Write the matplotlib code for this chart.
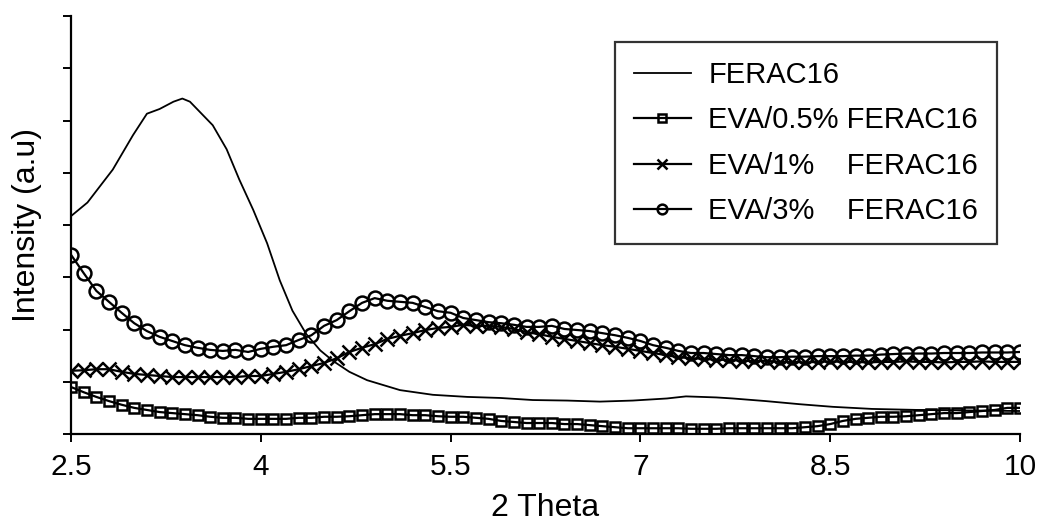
import numpy as np
import matplotlib
matplotlib.use("Agg")
import matplotlib.pyplot as plt

plt.rcParams['font.family'] = ['Liberation Sans', 'DejaVu Sans']

# ---- data ----
ferac_x = [2.5, 2.63, 2.83, 2.99, 3.10, 3.20, 3.31, 3.38, 3.44, 3.52, 3.62, 3.73,
           3.83, 3.94, 4.05, 4.15, 4.25, 4.36, 4.47, 4.57, 4.70, 4.84, 5.10, 5.36,
           5.63, 5.89, 6.15, 6.42, 6.68, 6.94, 7.21, 7.36, 7.60, 7.73, 7.99, 8.26,
           8.52, 8.83, 9.20, 10.0]
ferac_y = [4.17, 4.43, 5.06, 5.72, 6.13, 6.22, 6.36, 6.42, 6.36, 6.16, 5.91, 5.45,
           4.87, 4.29, 3.65, 2.94, 2.36, 1.91, 1.60, 1.40, 1.19, 1.03, 0.84, 0.75,
           0.71, 0.69, 0.65, 0.64, 0.62, 0.64, 0.68, 0.72, 0.70, 0.68, 0.63, 0.57,
           0.52, 0.48, 0.46, 0.44]

theta = [2.5, 2.6, 2.7, 2.8, 2.9, 3.0, 3.1, 3.2, 3.3, 3.4, 3.5, 3.6, 3.7, 3.8, 3.9,
         4.0, 4.1, 4.2, 4.3, 4.4, 4.5, 4.6, 4.7, 4.8, 4.9, 5.0, 5.1, 5.2, 5.3, 5.4,
         5.5, 5.6, 5.7, 5.8, 5.9, 6.0, 6.1, 6.2, 6.3, 6.4, 6.5, 6.6, 6.7, 6.8, 6.9,
         7.0, 7.1, 7.2, 7.3, 7.4, 7.5, 7.6, 7.7, 7.8, 7.9, 8.0, 8.1, 8.2, 8.3, 8.4,
         8.5, 8.6, 8.7, 8.8, 8.9, 9.0, 9.1, 9.2, 9.3, 9.4, 9.5, 9.6, 9.7, 9.8, 9.9,
         10.0]

eva05 = [0.90, 0.80, 0.71, 0.63, 0.56, 0.50, 0.46, 0.42, 0.40, 0.38, 0.36, 0.33,
         0.31, 0.31, 0.29, 0.29, 0.29, 0.29, 0.31, 0.31, 0.33, 0.33, 0.34, 0.36,
         0.38, 0.38, 0.38, 0.36, 0.36, 0.34, 0.33, 0.33, 0.31, 0.29, 0.25, 0.23,
         0.21, 0.21, 0.21, 0.19, 0.19, 0.17, 0.15, 0.13, 0.11, 0.11, 0.11, 0.11,
         0.11, 0.10, 0.10, 0.10, 0.11, 0.11, 0.11, 0.11, 0.11, 0.11, 0.13, 0.15,
         0.19, 0.25, 0.29, 0.31, 0.33, 0.33, 0.34, 0.36, 0.38, 0.40, 0.40, 0.42,
         0.44, 0.46, 0.50, 0.50]

eva1 = [1.21, 1.22, 1.24, 1.24, 1.19, 1.15, 1.13, 1.11, 1.09, 1.09, 1.09, 1.09,
        1.09, 1.09, 1.11, 1.11, 1.15, 1.19, 1.24, 1.30, 1.36, 1.45, 1.57, 1.65,
        1.72, 1.82, 1.88, 1.93, 1.99, 2.03, 2.05, 2.09, 2.07, 2.07, 2.05, 2.01,
        1.95, 1.91, 1.86, 1.82, 1.78, 1.74, 1.70, 1.67, 1.63, 1.59, 1.55, 1.51,
        1.47, 1.45, 1.44, 1.42, 1.42, 1.40, 1.40, 1.40, 1.38, 1.38, 1.37, 1.38,
        1.39, 1.38, 1.38, 1.37, 1.38, 1.38, 1.39, 1.38, 1.38, 1.37, 1.38, 1.38,
        1.39, 1.38, 1.38, 1.38]

eva3 = [3.43, 3.08, 2.74, 2.53, 2.32, 2.12, 1.97, 1.86, 1.78, 1.70, 1.65, 1.61,
        1.59, 1.61, 1.57, 1.63, 1.67, 1.70, 1.80, 1.89, 2.07, 2.18, 2.35, 2.51,
        2.60, 2.55, 2.53, 2.51, 2.43, 2.35, 2.32, 2.22, 2.18, 2.14, 2.12, 2.09,
        2.05, 2.05, 2.07, 2.01, 1.99, 1.97, 1.93, 1.89, 1.84, 1.78, 1.70, 1.65,
        1.59, 1.55, 1.55, 1.53, 1.51, 1.51, 1.49, 1.47, 1.47, 1.48, 1.48, 1.49,
        1.49, 1.49, 1.50, 1.50, 1.52, 1.53, 1.54, 1.54, 1.54, 1.55, 1.55, 1.55,
        1.56, 1.56, 1.56, 1.57]

labels = ["FERAC16", "EVA/0.5% FERAC16", "EVA/1%    FERAC16", "EVA/3%    FERAC16"]
xticks = [2.5, 4, 5.5, 7, 8.5, 10]
xtick_labels = ["2.5", "4", "5.5", "7", "8.5", "10"]

# ---- figure ----
fig = plt.figure(figsize=(10.42, 5.29), dpi=100)
ax = fig.add_axes([71/1042, 1 - 434/529, (1020 - 71)/1042, (434 - 16)/529])

lw = 1.6
ax.plot(ferac_x, ferac_y, color='black', lw=1.3, label=labels[0])
ax.plot(theta, eva05, color='black', lw=lw, marker='s', ms=7.5, mfc='none',
        mew=1.8, label=labels[1])
ax.plot(theta, eva1, color='black', lw=lw, marker='x', ms=10,
        mew=1.8, label=labels[2])
ax.plot(theta, eva3, color='black', lw=lw, marker='o', ms=10, mfc='none',
        mew=1.8, label=labels[3])

ax.set_xlim(2.5, 10)
ax.set_ylim(0, 8)
ax.set_xticks(xticks)
ax.set_xticklabels(xtick_labels)
ax.set_yticks(np.arange(0, 9, 1))
ax.set_yticklabels([])
ax.tick_params(direction='out', length=6, width=1.4, labelsize=21.5, pad=8,
               colors='black')
for s in ['top', 'right']:
    ax.spines[s].set_visible(False)
for s in ['left', 'bottom']:
    ax.spines[s].set_linewidth(1.6)

ax.set_xlabel("2 Theta", fontsize=23, labelpad=8)
ax.set_ylabel("Intensity (a.u)", fontsize=23, labelpad=7)

leg = ax.legend(loc='upper right', bbox_to_anchor=(0.9758, 0.9378), fontsize=21,
                frameon=True, fancybox=False, edgecolor='black',
                handlelength=1.95, handletextpad=0.6, labelspacing=0.6,
                borderpad=0.65, borderaxespad=0.0, markerscale=0.7)
leg.get_frame().set_linewidth(1.6)

fig.savefig("out.png", dpi=100)
